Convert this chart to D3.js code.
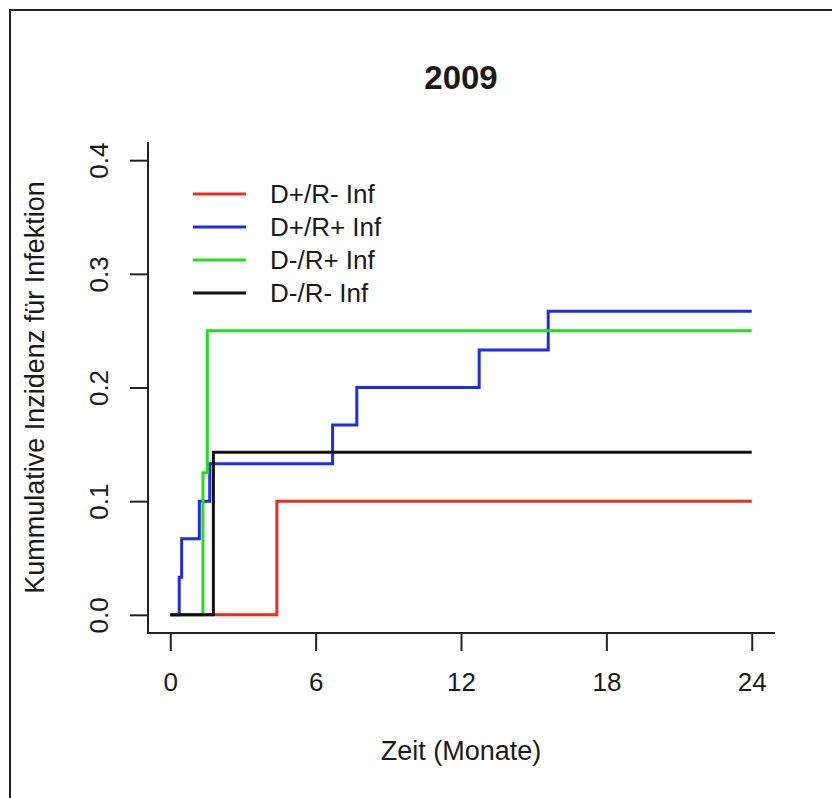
<!DOCTYPE html>
<html>
<head>
<meta charset="utf-8">
<script src="https://cdn.jsdelivr.net/npm/d3@7"></script>
<style>
  body { margin: 0; background: #fff; }
  svg text { font-family: "Liberation Sans", Arial, Helvetica, sans-serif; fill: #1a1a1a; }
</style>
</head>
<body>
<script>
// step data (time in months, cumulative incidence)
var redTimes = [0, 4.4],
    redValues = [0, 0.1];
var blueTimes = [0, 0.37, 0.47, 1.2, 1.63, 6.7, 7.7, 12.75, 15.6],
    blueValues = [0, 0.033, 0.067, 0.1, 0.133, 0.167, 0.2, 0.233, 0.267];
var greenTimes = [0, 1.35, 1.53],
    greenValues = [0, 0.125, 0.25];
var blackTimes = [0, 1.78],
    blackValues = [0, 0.143];
var endTime = 24;

var xTicks = [0, 6, 12, 18, 24],
    yTicks = [0, 0.1, 0.2, 0.3, 0.4];
var legendLabels = ['D+/R- Inf', 'D+/R+ Inf', 'D-/R+ Inf', 'D-/R- Inf'];

//setup size
var width = 832, height = 798;
var plot = {left: 147, right: 775, top: 142, bottom: 633};

var svg = d3.select('body').append('svg')
    .attr('width', width)
    .attr('height', height);

// frame (only top and left visible in the picture)
svg.append('path')
    .attr('d', 'M10,' + height + ' L10,10 L' + width + ',10')
    .attr('fill', 'none')
    .attr('stroke', '#222')
    .attr('stroke-width', 2);

//scales, with R's 4% padding
var xScale = d3.scaleLinear().domain([-0.96, 24.96]).range([plot.left, plot.right]);
var yScale = d3.scaleLinear().domain([-0.016, 0.416]).range([plot.bottom, plot.top]);

//series
var series = [
    {times: redTimes, values: redValues, color: '#ef2b1d'},
    {times: blueTimes, values: blueValues, color: '#1f2de0'},
    {times: greenTimes, values: greenValues, color: '#27dc1f'},
    {times: blackTimes, values: blackValues, color: '#111'}
];

var line = d3.line()
    .x(function(d) {return xScale(d[0])})
    .y(function(d) {return yScale(d[1])})
    .curve(d3.curveStepAfter);

series.forEach(function(s) {
    var pts = s.times.map(function(t, i) {return [t, s.values[i]]});
    pts.push([endTime, s.values[s.values.length - 1]]);
    svg.append('path')
        .datum(pts)
        .attr('d', line)
        .attr('fill', 'none')
        .attr('stroke', s.color)
        .attr('stroke-width', 3);
});

//box type "l"
svg.append('path')
    .attr('d', 'M' + (plot.left + 1) + ',' + plot.top + ' L' + (plot.left + 1) + ',' + plot.bottom + ' L' + plot.right + ',' + plot.bottom)
    .attr('fill', 'none')
    .attr('stroke', '#222')
    .attr('stroke-width', 2);

//x axis
var xAxis = svg.append('g')
    .attr('transform', 'translate(0,' + plot.bottom + ')')
    .call(d3.axisBottom(xScale).tickValues(xTicks).tickSize(18).tickPadding(22));
xAxis.select('.domain').remove();
xAxis.selectAll('line').attr('stroke', '#222').attr('stroke-width', 2);
xAxis.selectAll('text').style('font-size', '26px');

//y axis
var yAxis = svg.append('g')
    .attr('transform', 'translate(' + (plot.left + 1) + ',0)')
    .call(d3.axisLeft(yScale).tickValues(yTicks).tickSize(18).tickFormat(d3.format('.1f')));
yAxis.select('.domain').remove();
yAxis.selectAll('line').attr('stroke', '#222').attr('stroke-width', 2);
yAxis.selectAll('text')
    .attr('transform', 'rotate(-90)')
    .attr('x', 0)
    .attr('y', -40)
    .attr('dy', 0)
    .attr('text-anchor', 'middle')
    .style('font-size', '26px');

//titles
svg.append('text')
    .attr('x', (plot.left + plot.right) / 2)
    .attr('y', 89)
    .attr('text-anchor', 'middle')
    .style('font-size', '33px')
    .style('font-weight', 'bold')
    .text('2009');

svg.append('text')
    .attr('x', (plot.left + plot.right) / 2)
    .attr('y', 760)
    .attr('text-anchor', 'middle')
    .style('font-size', '27px')
    .text('Zeit (Monate)');

svg.append('text')
    .attr('transform', 'translate(44,' + (plot.top + plot.bottom) / 2 + ') rotate(-90)')
    .attr('text-anchor', 'middle')
    .style('font-size', '27px')
    .text('Kummulative Inzidenz für Infektion');

//legend, no box
var legend = svg.append('g').attr('transform', 'translate(193,194)');
legendLabels.forEach(function(lab, i) {
    var row = legend.append('g').attr('transform', 'translate(0,' + (i * 33) + ')');
    row.append('line')
        .attr('x1', 0).attr('x2', 53)
        .attr('stroke', series[i].color)
        .attr('stroke-width', 3);
    row.append('text')
        .attr('x', 77)
        .attr('y', 9)
        .style('font-size', '26px')
        .text(lab);
});
</script>
</body>
</html>
